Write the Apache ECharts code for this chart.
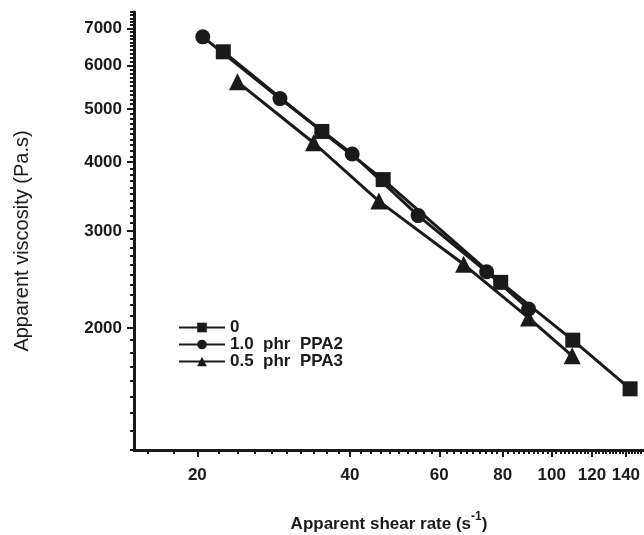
<!DOCTYPE html>
<html>
<head>
<meta charset="utf-8">
<script src="https://cdn.jsdelivr.net/npm/echarts@6/dist/echarts.min.js"></script>
<style>
  html, body { margin: 0; padding: 0; background: #fff; }
  #chart { width: 644px; height: 535px; }
</style>
</head>
<body>
<div id="chart"></div>
<script>
// series names
var seriesNames = ['0', '1.0  phr  PPA2', '0.5  phr  PPA3'];

// [shear rate (1/s), viscosity (Pa.s)]
var data0 = [[22.5, 6350], [35.2, 4550], [46.5, 3720], [79.3, 2420], [110, 1900], [142.7, 1550]];
var dataPPA2 = [[20.5, 6760], [29.1, 5220], [40.4, 4140], [54.5, 3200], [74.4, 2530], [90, 2165]];
var dataPPA3 = [[24.0, 5600], [33.9, 4340], [45.6, 3400], [67, 2610], [90, 2085], [109.7, 1780]];

// tick labels
var xLabels = [20, 40, 60, 80, 100, 120, 140];
var yLabels = [2000, 3000, 4000, 5000, 6000, 7000];

// minor ticks
var xMinor = [];
for (var i = 16; i <= 150; i += 2) xMinor.push(i);
var yMinor = [];
for (var j = 1200; j <= 7500; j += 100) yMinor.push(j);

var ink = '#1a1a1a';
var font = 'Liberation Sans, Arial, sans-serif';

var chart = echarts.init(document.getElementById('chart'));

function makeSeries(name, data, symbol, size) {
    return {
        name: name,
        type: 'line',
        data: data,
        symbol: symbol,
        symbolSize: size,
        showAllSymbol: true,
        lineStyle: { color: ink, width: 3 },
        itemStyle: { color: ink },
        animation: false
    };
}

function plain(v) {
    return String(Math.round(v));
}

var option = {
    backgroundColor: '#fff',
    animation: false,
    grid: { left: 134, right: 0, top: 12, bottom: 85, outerBoundsMode: 'none', containLabel: false },
    legend: {
        orient: 'vertical',
        left: 173,
        top: 314,
        itemWidth: 46,
        itemHeight: 12,
        itemGap: 0,
        textStyle: { color: ink, fontFamily: font, fontWeight: 'bold', fontSize: 17, lineHeight: 15 },
        data: seriesNames
    },
    xAxis: [
        {
            type: 'log', logBase: 10, min: 15, max: 152,
            position: 'bottom',
            name: '{a|Apparent shear rate (s}{s|-1}{a|)}',
            nameLocation: 'middle',
            nameGap: 61,
            nameTextStyle: {
                rich: {
                    a: { fontFamily: font, fontWeight: 'bold', fontSize: 17, color: ink, lineHeight: 22, verticalAlign: 'bottom' },
                    s: { fontFamily: font, fontWeight: 'bold', fontSize: 12, color: ink, lineHeight: 22, verticalAlign: 'top' }
                }
            },
            axisLine: { show: true, lineStyle: { color: ink, width: 3 } },
            axisTick: { show: true, inside: false, customValues: xLabels, length: 7, lineStyle: { color: ink, width: 2 } },
            axisLabel: { customValues: xLabels, formatter: plain, margin: 17, color: ink, fontFamily: font, fontWeight: 'bold', fontSize: 17 },
            splitLine: { show: false }
        },
        {
            type: 'log', logBase: 10, min: 15, max: 152,
            position: 'bottom',
            axisLine: { show: false },
            axisTick: { show: true, inside: false, customValues: xMinor, length: 4, lineStyle: { color: ink, width: 2 } },
            axisLabel: { show: false },
            splitLine: { show: false }
        }
    ],
    yAxis: [
        {
            type: 'log', logBase: 10, min: 1200, max: 7500,
            position: 'left',
            name: 'Apparent viscosity (Pa.s)',
            nameLocation: 'middle',
            nameGap: 102,
            nameTextStyle: { fontFamily: font, fontSize: 20, color: ink, padding: [0, 20, 0, 0] },
            axisLine: { show: true, lineStyle: { color: ink, width: 3 } },
            axisTick: { show: true, inside: false, customValues: yLabels, length: 7, lineStyle: { color: ink, width: 2 } },
            axisLabel: { customValues: yLabels, formatter: plain, margin: 12, color: ink, fontFamily: font, fontWeight: 'bold', fontSize: 17 },
            splitLine: { show: false }
        },
        {
            type: 'log', logBase: 10, min: 1200, max: 7500,
            position: 'left',
            axisLine: { show: false },
            axisTick: { show: true, inside: false, customValues: yMinor, length: 4, lineStyle: { color: ink, width: 2 } },
            axisLabel: { show: false },
            splitLine: { show: false }
        }
    ],
    series: [
        makeSeries(seriesNames[0], data0, 'rect', 15),
        makeSeries(seriesNames[1], dataPPA2, 'circle', 15),
        makeSeries(seriesNames[2], dataPPA3, 'triangle', 17)
    ]
};

chart.setOption(option);
</script>
</body>
</html>
